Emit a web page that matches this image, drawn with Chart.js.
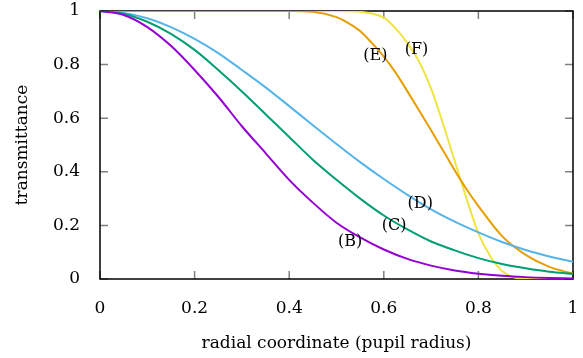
<!DOCTYPE html>
<html>
<head>
<meta charset="utf-8">
<title>transmittance</title>
<script src="https://cdn.jsdelivr.net/npm/chart.js@4"></script>
<style>
  html, body { margin: 0; padding: 0; background: #fff; }
  #wrap { width: 583px; height: 358px; }
</style>
</head>
<body>
<div id="wrap"><canvas id="chart" width="583" height="358"></canvas></div>
<script>
// radial coordinate samples
const rGrid = [0, 0.05, 0.1, 0.15, 0.2, 0.25, 0.3, 0.35, 0.4, 0.45, 0.5,
               0.55, 0.6, 0.65, 0.7, 0.75, 0.8, 0.85, 0.9, 0.95, 1];

// curves
const curveB = [1, 0.985, 0.94, 0.87, 0.78, 0.68, 0.57, 0.47, 0.37, 0.285, 0.21,
                0.155, 0.11, 0.075, 0.05, 0.032, 0.02, 0.012, 0.007, 0.004, 0.002];
const curveC = [1, 0.99, 0.96, 0.915, 0.855, 0.78, 0.70, 0.615, 0.53, 0.445, 0.37,
                0.30, 0.237, 0.185, 0.14, 0.107, 0.078, 0.056, 0.04, 0.027, 0.019];
const curveD = [1, 0.993, 0.973, 0.94, 0.896, 0.843, 0.78, 0.715, 0.645, 0.574, 0.504,
                0.436, 0.373, 0.314, 0.26, 0.214, 0.174, 0.138, 0.108, 0.084, 0.064];

const rE = [0, 0.2, 0.4, 0.45, 0.5, 0.525, 0.55, 0.575, 0.6, 0.625, 0.65, 0.675, 0.7,
            0.725, 0.75, 0.775, 0.8, 0.85, 0.9, 0.95, 1];
const curveE = [1, 1, 1, 0.997, 0.977, 0.955, 0.925, 0.88, 0.83, 0.77, 0.70, 0.628, 0.555,
                0.48, 0.405, 0.335, 0.272, 0.16, 0.09, 0.045, 0.02];

const rF = [0, 0.2, 0.4, 0.5, 0.55, 0.6, 0.625, 0.65, 0.675, 0.7, 0.725, 0.75, 0.775,
            0.8, 0.825, 0.85, 0.875, 0.9, 0.95, 1];
const curveF = [1, 1, 1, 1, 0.997, 0.975, 0.935, 0.88, 0.81, 0.71, 0.58, 0.44, 0.30,
                0.17, 0.085, 0.03, 0.006, 0.001, 0, 0];

const seriesNames = ["(B)", "(C)", "(D)", "(E)", "(F)"];
const seriesColors = ["#9400d3", "#009e73", "#56b4e9", "#e69f00", "#f0e442"];
// where each label sits, in data units
const labelX = [0.529, 0.622, 0.677, 0.582, 0.669];
const labelY = [0.137, 0.197, 0.279, 0.834, 0.856];

const xTicks = [0, 0.2, 0.4, 0.6, 0.8, 1];
const xTickLabels = ["0", "0.2", "0.4", "0.6", "0.8", "1"];
const yTicks = [0, 0.2, 0.4, 0.6, 0.8, 1];
const yTickLabels = ["0", "0.2", "0.4", "0.6", "0.8", "1"];

const FONT = "'DejaVu Serif', serif";

function pts(xs, ys) {
    return xs.map((x, i) => ({ x: x, y: ys[i] }));
}

const allX = [rGrid, rGrid, rGrid, rE, rF];
const allY = [curveB, curveC, curveD, curveE, curveF];

const datasets = allY.map((ys, i) => ({
    label: seriesNames[i],
    data: pts(allX[i], ys),
    borderColor: seriesColors[i],
    backgroundColor: "transparent",
    borderWidth: 2,
    pointRadius: 0,
    cubicInterpolationMode: "monotone",
    fill: false
}));

// frame + inward ticks, gnuplot style
const framePlugin = {
    id: "frame",
    beforeDatasetsDraw(chart) {
        const { ctx, chartArea: a, scales } = chart;
        ctx.save();
        ctx.strokeStyle = "#808080";
        ctx.lineWidth = 1.5;
        const len = 8;
        xTicks.forEach(v => {
            const px = scales.x.getPixelForValue(v);
            ctx.beginPath();
            ctx.moveTo(px, a.bottom); ctx.lineTo(px, a.bottom - len);
            ctx.moveTo(px, a.top); ctx.lineTo(px, a.top + len);
            ctx.stroke();
        });
        yTicks.forEach(v => {
            const py = scales.y.getPixelForValue(v);
            ctx.beginPath();
            ctx.moveTo(a.left, py); ctx.lineTo(a.left + len, py);
            ctx.moveTo(a.right, py); ctx.lineTo(a.right - len, py);
            ctx.stroke();
        });
        ctx.strokeStyle = "#000";
        ctx.lineWidth = 1.5;
        ctx.strokeRect(a.left, a.top, a.right - a.left, a.bottom - a.top);
        ctx.restore();
    },
    afterDatasetsDraw(chart) {
        const { ctx, scales } = chart;
        ctx.save();
        ctx.fillStyle = "#000";
        ctx.font = "16px " + FONT;
        ctx.textAlign = "center";
        ctx.textBaseline = "middle";
        seriesNames.forEach((name, i) => {
            ctx.fillText(name, scales.x.getPixelForValue(labelX[i]), scales.y.getPixelForValue(labelY[i]));
        });
        ctx.restore();
    }
};

new Chart(document.getElementById("chart").getContext("2d"), {
    type: "line",
    data: { datasets: datasets },
    options: {
        responsive: false,
        animation: false,
        layout: { padding: { top: 11, right: 10, left: 0, bottom: 0 } },
        plugins: { legend: { display: false }, tooltip: { enabled: false } },
        scales: {
            x: {
                type: "linear",
                min: 0, max: 1,
                afterBuildTicks: s => { s.ticks = xTicks.map(v => ({ value: v })); },
                afterFit: s => { s.height = 79; s.paddingLeft = 0; s.paddingRight = 0; },
                grid: { display: false },
                border: { display: false },
                ticks: {
                    color: "#000",
                    padding: 11,
                    font: { family: FONT, size: 17 },
                    callback: (v) => xTickLabels[xTicks.indexOf(v)]
                },
                title: {
                    display: true,
                    text: "radial coordinate (pupil radius)",
                    color: "#000",
                    font: { family: FONT, size: 17 },
                    padding: { top: 14 }
                }
            },
            y: {
                type: "linear",
                min: 0, max: 1,
                afterBuildTicks: s => { s.ticks = yTicks.map(v => ({ value: v })); },
                afterFit: s => { s.width = 100; s.paddingTop = 0; s.paddingBottom = 0; },
                grid: { display: false },
                border: { display: false },
                ticks: {
                    color: "#000",
                    padding: 12,
                    font: { family: FONT, size: 17 },
                    callback: (v) => yTickLabels[yTicks.indexOf(v)]
                },
                title: {
                    display: true,
                    text: "transmittance",
                    color: "#000",
                    font: { family: FONT, size: 17 },
                    padding: { top: 12, bottom: 0 }
                }
            }
        }
    },
    plugins: [framePlugin]
});
</script>
</body>
</html>
